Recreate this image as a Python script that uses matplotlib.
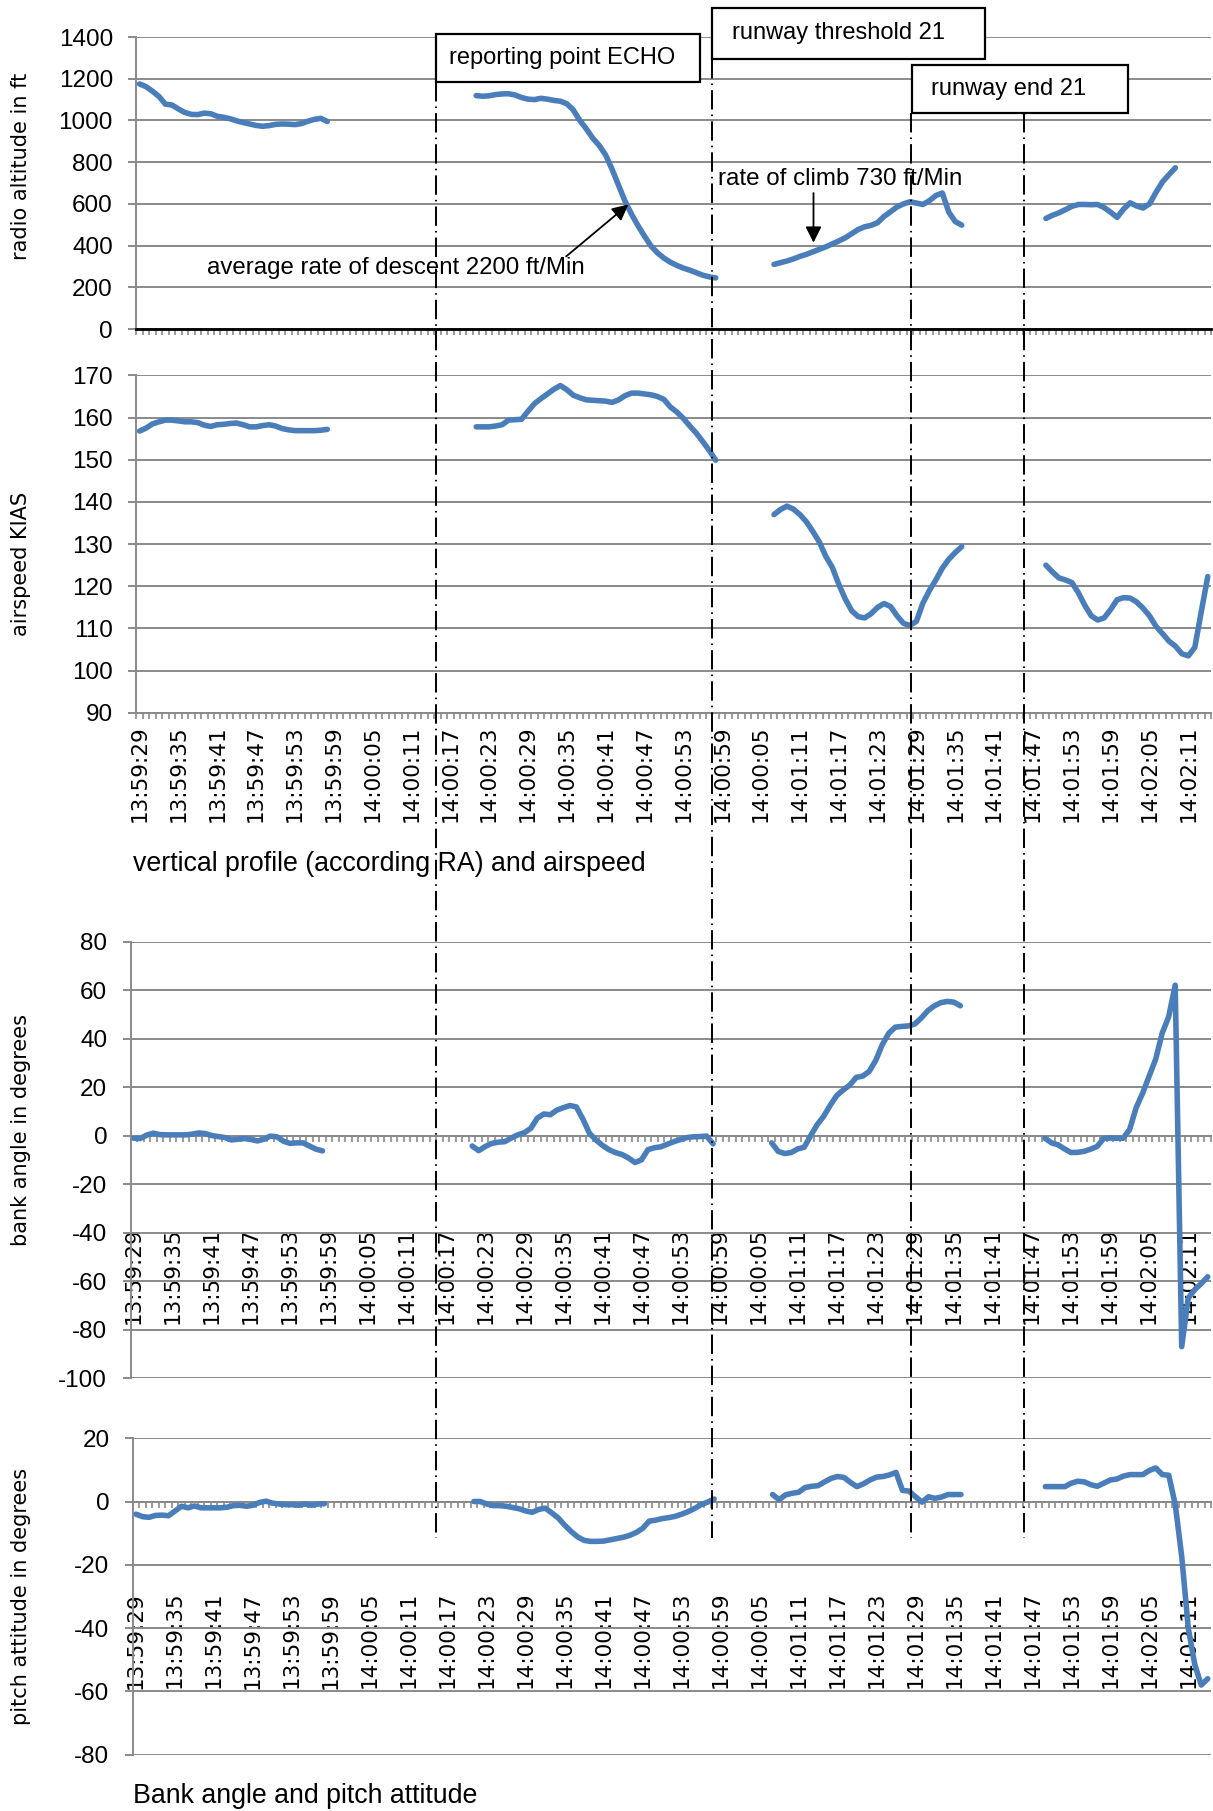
import numpy as np
import matplotlib.pyplot as plt
from matplotlib.patches import Rectangle
from matplotlib.transforms import Affine2D

plt.rcParams['axes.unicode_minus'] = False

# one category per second from 13:59:29 on
n_sec = 166
tick_every = 6
time_labels = ['13:59:29', '13:59:35', '13:59:41', '13:59:47', '13:59:53',
               '13:59:59', '14:00:05', '14:00:11', '14:00:17', '14:00:23',
               '14:00:29', '14:00:35', '14:00:41', '14:00:47', '14:00:53',
               '14:00:59', '14:00:05', '14:01:11', '14:01:17', '14:01:23',
               '14:01:29', '14:01:35', '14:01:41', '14:01:47', '14:01:53',
               '14:01:59', '14:02:05', '14:02:11']

# recorded stretches begin at these seconds, nothing in between
seg_start = [0, 52, 98, 140]

radio_alt_1 = [1175, 1162, 1140, 1115, 1078, 1074, 1055, 1038, 1029, 1028,
               1035, 1032, 1020, 1015, 1008, 998, 990, 983, 976, 972,
               975, 981, 983, 982, 980, 985, 996, 1005, 1010, 995]
radio_alt_2 = [1119, 1116, 1118, 1124, 1127, 1128, 1122, 1110, 1102, 1100,
               1106, 1102, 1096, 1092, 1080, 1050, 1000, 960, 915, 880,
               834, 765, 688, 612, 550, 495, 445, 398, 365, 340,
               320, 305, 292, 282, 270, 258, 250, 245]
radio_alt_3 = [310, 318, 326, 336, 348, 358, 370, 382, 394, 408,
               422, 437, 457, 477, 490, 497, 510, 540, 562, 585,
               600, 610, 604, 597, 615, 640, 652, 560, 515, 498]
radio_alt_4 = [530, 545, 557, 572, 588, 597, 597, 596, 597, 582,
               560, 535, 575, 605, 590, 580, 600, 655, 705, 740, 773]

airspeed_1 = [156.8, 157.5, 158.5, 159.0, 159.4, 159.4, 159.2, 159.0, 159.0, 158.8,
              158.2, 157.9, 158.3, 158.4, 158.6, 158.7, 158.3, 157.8, 157.8, 158.1,
              158.3, 158.0, 157.4, 157.1, 156.9, 156.9, 156.9, 156.9, 157.0, 157.2]
airspeed_2 = [157.8, 157.8, 157.8, 158.0, 158.3, 159.4, 159.5, 159.6, 161.5, 163.3,
              164.5, 165.6, 166.7, 167.6, 166.6, 165.3, 164.7, 164.2, 164.1, 164.0,
              163.9, 163.6, 164.2, 165.2, 165.8, 165.8, 165.6, 165.4, 165.0, 164.3,
              162.5, 161.3, 159.8, 158.0, 156.3, 154.3, 152.2, 149.9]
airspeed_3 = [137.0, 138.2, 139.0, 138.3, 137.0, 135.3, 133.0, 130.5, 127.1, 124.5,
              120.5, 117.0, 114.2, 112.8, 112.5, 113.5, 115.0, 115.9, 115.2, 113.0,
              111.2, 110.7, 111.7, 116.0, 119.0, 121.5, 124.3, 126.4, 128.0, 129.4]
airspeed_4 = [125.0, 123.4, 122.0, 121.5, 120.9, 118.5, 115.5, 113.0, 112.0, 112.5,
              114.5, 116.8, 117.3, 117.2, 116.3, 114.8, 113.0, 110.5, 108.8, 107.0,
              105.8, 104.0, 103.5, 105.5, 114.0, 122.3]

bank_1 = [-1.1, -1.2, 0.2, 1.0, 0.4, 0.3, 0.3, 0.3, 0.3, 0.6,
          1.1, 0.8, 0.0, -0.4, -0.8, -1.8, -1.5, -1.2, -1.6, -2.2,
          -1.5, -0.2, -0.5, -2.3, -3.2, -3.0, -3.0, -4.3, -5.6, -6.3]
bank_2 = [-4.3, -6.2, -4.5, -3.2, -2.7, -2.5, -1.0, 0.3, 1.2, 3.0,
          7.2, 8.9, 8.6, 10.5, 11.5, 12.4, 11.8, 6.8, 1.0, -1.8,
          -4.0, -5.8, -7.0, -7.8, -9.2, -11.1, -10.0, -5.8, -5.0, -4.6,
          -3.5, -2.5, -1.6, -0.8, -0.5, -0.4, -0.2, -3.4]
bank_3 = [-3.0, -6.5, -7.4, -7.0, -5.5, -4.8, 0.0, 4.5, 8.0, 12.5,
          16.5, 18.8, 20.8, 24.0, 24.5, 26.5, 31.0, 37.5, 42.2, 44.7,
          45.0, 45.2, 46.0, 48.5, 51.5, 53.5, 54.8, 55.3, 55.0, 53.5]
bank_4 = [-1.1, -3.0, -3.8, -5.5, -7.0, -6.9, -6.5, -5.6, -4.5, -1.2,
          -1.0, -1.1, -1.1, 2.5, 11.5, 17.5, 24.5, 31.5, 42.2, 49.0,
          62.0, -87.0, -67.0, -63.5, -61.0, -58.2]

pitch_1 = [-4.0, -4.8, -5.0, -4.4, -4.3, -4.5, -3.0, -1.5, -2.0, -1.4,
           -2.0, -2.0, -2.0, -2.0, -1.8, -1.3, -1.2, -1.5, -1.2, -0.3,
           0.1, -0.5, -0.8, -1.0, -1.0, -1.2, -0.8, -1.2, -0.8, -0.7]
pitch_2 = [0.0, 0.0, -0.8, -1.3, -1.3, -1.5, -1.9, -2.3, -3.0, -3.4,
           -2.5, -2.1, -3.6, -5.2, -7.5, -9.5, -11.2, -12.3, -12.6, -12.6,
           -12.5, -12.1, -11.7, -11.3, -10.7, -9.8, -8.5, -6.2, -5.9, -5.4,
           -5.1, -4.7, -4.0, -3.2, -2.2, -1.0, -0.2, 0.8]
pitch_3 = [2.2, 0.6, 2.1, 2.6, 2.9, 4.4, 4.8, 5.0, 6.2, 7.3,
           7.9, 7.6, 6.0, 4.7, 5.6, 6.8, 7.7, 7.9, 8.4, 9.2,
           3.5, 3.3, 1.5, -0.2, 1.5, 1.0, 1.4, 2.2, 2.2, 2.2]
pitch_4 = [4.7, 4.7, 4.7, 4.7, 5.8, 6.4, 6.2, 5.3, 4.8, 5.8,
           6.8, 7.1, 8.0, 8.5, 8.5, 8.5, 9.8, 10.6, 8.5, 8.3,
           -1.0, -17.5, -40.0, -51.5, -58.0, -56.0]

# event markers, seconds after 13:59:29
event_sec = [45.8, 88.4, 119.2, 136.6]

BLUE = '#4a7ebb'
GRID = '#8a8a8a'
NUM_FONT = 'Liberation Sans'
TIME_FONT = 'DejaVu Sans'


def series(parts):
    y = np.full(n_sec, np.nan)
    for s, vals in zip(seg_start, parts):
        y[s:s + len(vals)] = vals
    return y


W, H = 1213, 1811
fig = plt.figure(figsize=(W / 100, H / 100), dpi=100)
fig.patch.set_facecolor('white')
# pixel positions measured from the top-left corner
pix = Affine2D().scale(1 / W, -1 / H).translate(0, 1) + fig.transFigure


def axes_at(x0, y_top, x1, y_bot):
    return fig.add_axes([x0 / W, 1 - y_bot / H, (x1 - x0) / W, (y_bot - y_top) / H])


def style(ax, lo, hi, step, labels=True, zero_axis=False, pad=9):
    ax.set_xlim(-0.5, n_sec - 0.5)
    ax.set_ylim(lo, hi)
    ax.set_yticks(np.arange(lo, hi + 1, step))
    ax.yaxis.grid(True, color=GRID, lw=1.4)
    ax.set_axisbelow(True)
    for s in ('top', 'right'):
        ax.spines[s].set_visible(False)
    ax.spines['left'].set_color(GRID)
    ax.spines['left'].set_linewidth(1.4)
    ax.spines['bottom'].set_color(GRID)
    ax.spines['bottom'].set_linewidth(1.4)
    if zero_axis:
        ax.spines['bottom'].set_position(('data', 0))
    ax.set_xticks(np.arange(-0.5, n_sec, 1), minor=True)
    ax.set_xticks(range(0, n_sec - 3, tick_every))
    if labels:
        ax.set_xticklabels(time_labels, rotation=90, fontfamily=TIME_FONT, fontsize=15.5)
    else:
        ax.set_xticklabels([])
    ax.tick_params(axis='x', which='major', length=0, pad=pad)
    ax.tick_params(axis='x', which='minor', length=4.5, width=1.2, color=GRID)
    ax.tick_params(axis='y', length=5.8, width=1.4, color=GRID, pad=11, labelsize=17.5)
    for t in ax.get_yticklabels():
        t.set_fontfamily(NUM_FONT)


def draw(ax, parts):
    ax.plot(np.arange(n_sec), series(parts), color=BLUE, lw=4.0,
            solid_capstyle='round', solid_joinstyle='round', zorder=3)


ax1 = axes_at(136.3, 37, 1211, 329)
ax2 = axes_at(136.3, 375.4, 1211, 712.8)
ax3 = axes_at(130.5, 941.5, 1211, 1378.2)
ax4 = axes_at(132.8, 1438.2, 1211, 1754.7)

style(ax1, 0, 1400, 200, labels=False)
ax1.spines['bottom'].set_color('black')
ax1.spines['bottom'].set_linewidth(2.0)
style(ax2, 90, 170, 10, pad=9)
style(ax3, -100, 80, 20, zero_axis=True, pad=66)
style(ax4, -80, 20, 20, zero_axis=True, pad=65)

draw(ax1, [radio_alt_1, radio_alt_2, radio_alt_3, radio_alt_4])
draw(ax2, [airspeed_1, airspeed_2, airspeed_3, airspeed_4])
draw(ax3, [bank_1, bank_2, bank_3, bank_4])
draw(ax4, [pitch_1, pitch_2, pitch_3, pitch_4])

# rate annotations on the altitude trace
ax1.text(10.4, 292, 'average rate of descent 2200 ft/Min', fontfamily=NUM_FONT,
         fontsize=17.3, va='center', ha='left', zorder=4)
ax1.annotate('', xy=(75.5, 597), xytext=(65.9, 348),
             arrowprops=dict(arrowstyle='-|>', color='black', lw=1.3,
                             mutation_scale=24, shrinkA=0, shrinkB=0))
ax1.text(89.4, 719, 'rate of climb 730 ft/Min', fontfamily=NUM_FONT,
         fontsize=17.4, va='center', ha='left', zorder=4)
ax1.annotate('', xy=(104.1, 414), xytext=(104.1, 652),
             arrowprops=dict(arrowstyle='-|>', color='black', lw=1.3,
                             mutation_scale=24, shrinkA=0, shrinkB=0))

# dash-dot event lines running through all panels
ov = fig.add_axes([136.3 / W, 0, (1211 - 136.3) / W, 1], zorder=3)
ov.set_xlim(-0.5, n_sec - 0.5)
ov.set_ylim(H, 0)
ov.patch.set_visible(False)
ov.axis('off')
line_top = [82, 59, 113, 113]
for t, top in zip(event_sec, line_top):
    ov.plot([t, t], [top, 1538], color='black', lw=1.4,
            linestyle=(0, (10, 2.6, 0.8, 2.6)))

# event boxes
boxes = [((435.5, 33.5, 700, 82), 'reporting point ECHO', 449.4),
         ((711.6, 8.1, 985.4, 58.9), 'runway threshold 21', 732.4),
         ((911.5, 64.7, 1127.5, 113.2), 'runway end 21', 931)]
for (x0, y0, x1, y1), name, tx in boxes:
    fig.add_artist(Rectangle((x0, y1), x1 - x0, y0 - y1, transform=pix,
                             facecolor='white', edgecolor='black', lw=1.6, zorder=5))
    fig.text(tx, (y0 + y1) / 2, name, transform=pix, fontfamily=NUM_FONT,
             fontsize=17, va='center', ha='left', zorder=6)

# axis titles
ylabels = [('radio altitude in ft', 166.4), ('airspeed KIAS', 563.8),
           ('bank angle in degrees', 1129.8), ('pitch attitude in degrees', 1596.5)]
for text, yc in ylabels:
    fig.text(20.8, yc, text, transform=pix, rotation=90, ha='center', va='center',
             fontfamily=TIME_FONT, fontsize=15)

fig.text(132.8, 864, 'vertical profile (according RA) and airspeed', transform=pix,
         fontfamily=NUM_FONT, fontsize=19.3, va='center', ha='left')
fig.text(132.8, 1796, 'Bank angle and pitch attitude', transform=pix,
         fontfamily=NUM_FONT, fontsize=19.3, va='center', ha='left')

fig.savefig('out.png', dpi=100, facecolor='white')
